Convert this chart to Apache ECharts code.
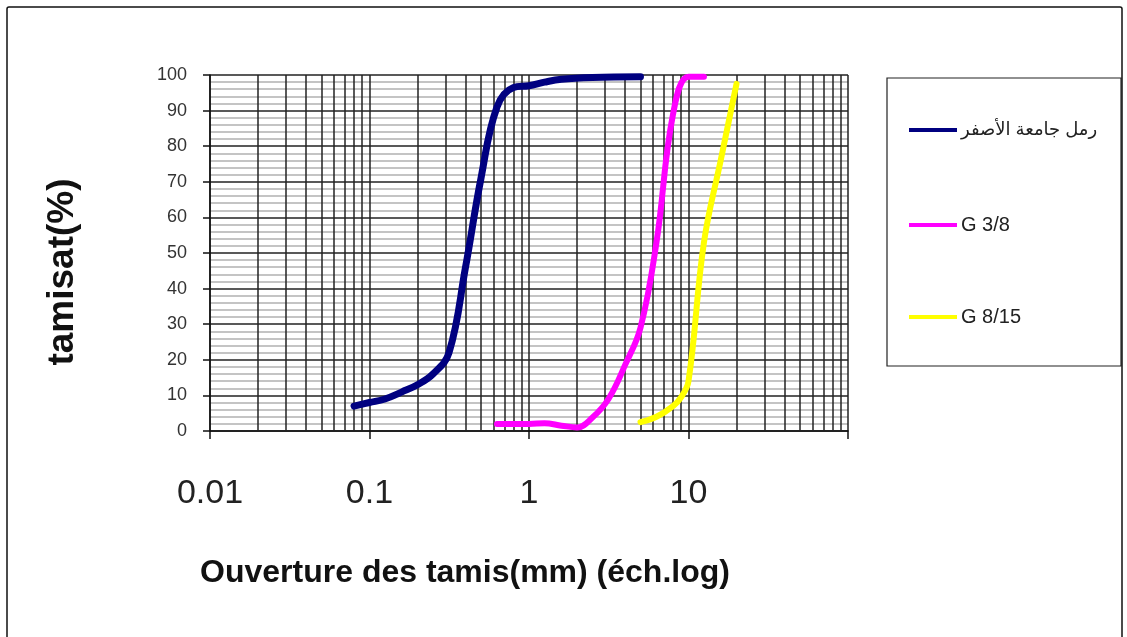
<!DOCTYPE html>
<html>
<head>
<meta charset="utf-8">
<script src="https://cdn.jsdelivr.net/npm/echarts@6/dist/echarts.min.js"></script>
<style>
  html, body { margin: 0; padding: 0; background: #fff; }
  #chart { width: 1127px; height: 637px; }
</style>
</head>
<body>
<div id="chart"></div>
<script>
// sieve openings (mm) and passing (%) for each material
const sandSizes = [0.08, 0.1, 0.125, 0.16, 0.2, 0.25, 0.315, 0.4, 0.5, 0.63, 0.8, 1, 1.25, 1.6, 2.5, 5];
const sandPass = [7, 8, 9, 11, 13, 16, 22, 46, 71, 91, 96.5, 97, 98, 98.8, 99.3, 99.5];
const g38Sizes = [0.63, 1, 1.25, 1.6, 2, 2.5, 3.15, 4, 5, 6.3, 8, 10, 12.5];
const g38Pass = [2, 2, 2.2, 1.5, 1, 3.8, 9, 18.5, 29, 53, 89, 99.5, 99.5];
const g815Sizes = [5, 6.3, 8, 9, 10, 12.5, 16, 20];
const g815Pass = [2.5, 4, 7, 9.5, 14, 53, 76.5, 97.5];

const seriesNames = ["رمل جامعة الأصفر", "G 3/8", "G 8/15"];
const seriesColors = ["#000080", "#ff00ff", "#ffff00"];
const xTickLabels = ["0.01", "0.1", "1", "10"];
// log minor grid values (2..9 in each decade)
const minorX = [];
[0.01, 0.1, 1, 10].forEach(d => {
  for (let k = 2; k <= 9; k++) minorX.push(+(d * k).toPrecision(3));
});

const zip = (xs, ys) => xs.map((x, i) => [x, ys[i]]);
const font = "Liberation Sans, Arial, DejaVu Sans, sans-serif";

const chart = echarts.init(document.getElementById("chart"));

const lineSeries = (name, data, color, width) => ({
  name,
  type: "line",
  data,
  smooth: 0.4,
  showSymbol: false,
  z: 5,
  lineStyle: { color, width, cap: "round", join: "round" },
  itemStyle: { color },
});

const legendAt = (name, top, size) => ({
  data: [name],
  left: 909,
  top,
  padding: 0,
  icon: "rect",
  itemWidth: 48,
  itemHeight: 4,
  itemGap: 4,
  selectedMode: false,
  textStyle: { fontSize: size, color: "#222", fontFamily: font, padding: [0, 0, 0, -1] },
});

chart.setOption({
  animation: false,
  backgroundColor: "#fff",
  grid: { left: 210, right: 279, top: 75, bottom: 206, containLabel: false },
  xAxis: {
    type: "log",
    logBase: 10,
    min: 0.01,
    max: 100,
    splitNumber: 4,
    axisLine: { show: true, lineStyle: { color: "#111", width: 1.5 } },
    axisTick: { show: true, length: 8, inside: false, lineStyle: { color: "#111", width: 1.5 } },
    axisLabel: {
      margin: 46,
      fontSize: 34,
      color: "#222",
      fontFamily: font,
      formatter: v => {
        const s = String(+Number(v).toPrecision(3));
        return xTickLabels.includes(s) ? s : "";
      },
    },
    splitLine: { show: true, lineStyle: { color: "#222", width: 1.5 } },
  },
  yAxis: {
    type: "value",
    min: 0,
    max: 100,
    interval: 10,
    axisLine: { show: true, lineStyle: { color: "#111", width: 1.5 } },
    axisTick: { show: true, length: 7, lineStyle: { color: "#111", width: 1.5 } },
    axisLabel: { margin: 23, fontSize: 18, color: "#333", fontFamily: font },
    splitLine: { show: true, lineStyle: { color: "#222", width: 1.5 } },
    minorTick: { show: false, splitNumber: 5 },
    minorSplitLine: { show: true, lineStyle: { color: "#c4c4c4", width: 1.8 } },
  },
  legend: [
    legendAt(seriesNames[0], 121, 18),
    legendAt(seriesNames[1], 215, 20),
    legendAt(seriesNames[2], 307, 20),
  ],
  graphic: [
    {
      type: "rect",
      silent: true,
      shape: { x: 7, y: 7, width: 1115, height: 640, r: 2 },
      style: { fill: "none", stroke: "#111", lineWidth: 1.5 },
    },
    {
      type: "rect",
      silent: true,
      shape: { x: 887, y: 78, width: 234, height: 288 },
      style: { fill: "#fff", stroke: "#222", lineWidth: 1.2 },
      z: -1,
    },
    {
      type: "text",
      x: 63,
      y: 272,
      rotation: Math.PI / 2,
      style: {
        text: "tamisat(%)",
        font: "bold 37px " + font,
        fill: "#111",
        textAlign: "center",
        textVerticalAlign: "middle",
      },
    },
    {
      type: "text",
      x: 465,
      y: 573,
      style: {
        text: "Ouverture des tamis(mm) (éch.log)",
        font: "bold 32px " + font,
        fill: "#111",
        textAlign: "center",
        textVerticalAlign: "middle",
      },
    },
  ],
  series: [
    {
      type: "line",
      data: [],
      z: 1,
      silent: true,
      markLine: {
        silent: true,
        symbol: "none",
        animation: false,
        label: { show: false },
        lineStyle: { color: "#222", width: 1.5, type: "solid" },
        data: minorX.map(v => ({ xAxis: v })),
      },
    },
    lineSeries(seriesNames[0], zip(sandSizes, sandPass), seriesColors[0], 7),
    lineSeries(seriesNames[1], zip(g38Sizes, g38Pass), seriesColors[1], 6),
    lineSeries(seriesNames[2], zip(g815Sizes, g815Pass), seriesColors[2], 6),
  ],
});
</script>
</body>
</html>
